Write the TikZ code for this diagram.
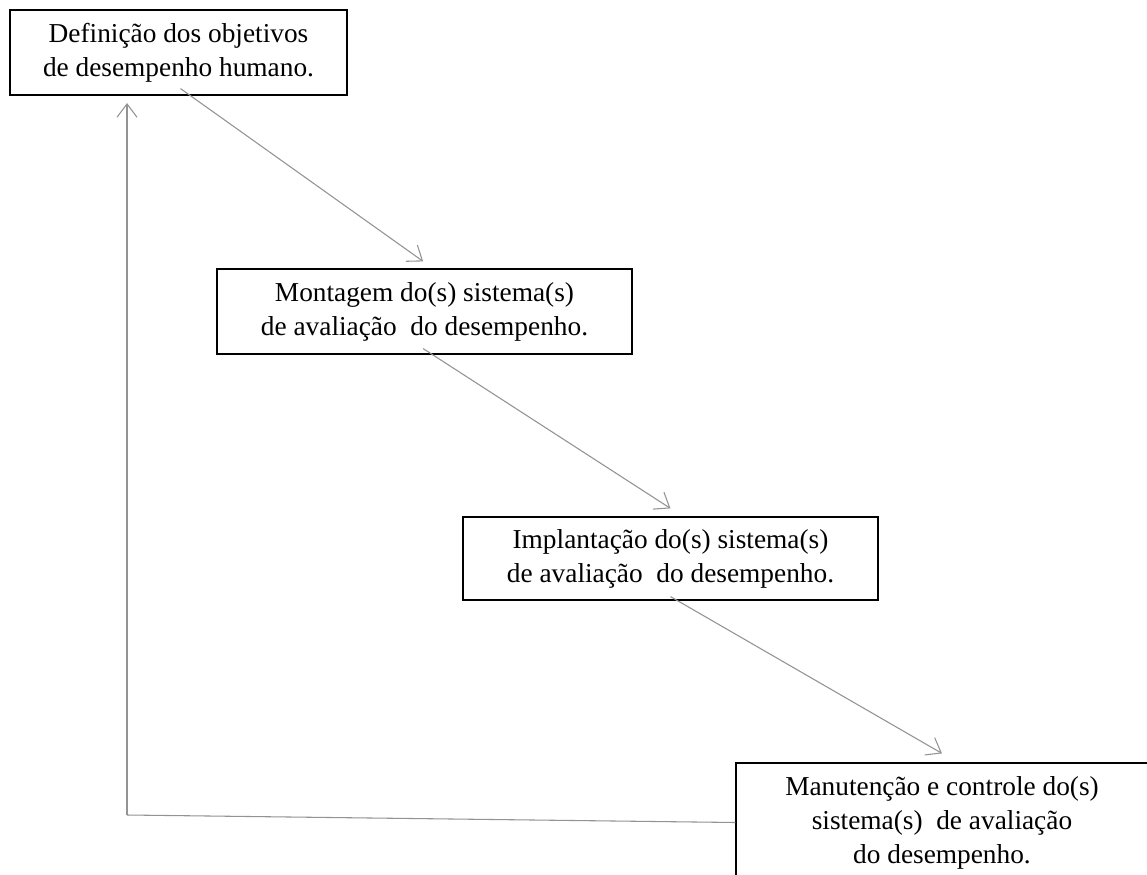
\documentclass[tikz,border=0pt]{standalone}
\usepackage{fontspec}
\setmainfont{Liberation Serif}
\usetikzlibrary{arrows.meta}
\definecolor{linegray}{HTML}{939393}
\tikzset{
  stagebox/.style={draw=black, line width=0.9pt, align=center, inner sep=0pt,
    font=\fontsize{20.5pt}{25.5pt}\selectfont},
  flow/.style={draw=linegray, line width=0.8pt, -{Straight Barb[length=10pt,width=15pt]}},
  feedline/.style={draw=linegray, line width=0.8pt}
}
\begin{document}
\begin{tikzpicture}[x=0.75pt,y=-0.75pt]
\useasboundingbox (0,0) rectangle (1147,875);
\clip (0,0) rectangle (1147,875);
\fill[white] (0,0) rectangle (1147,875);

\node[stagebox, minimum width=337*0.75pt, minimum height=85*0.75pt] (b1) at (178.5,52.5)
  {Definição dos objetivos\\de desempenho humano.};
\node[stagebox, minimum width=415*0.75pt, minimum height=85*0.75pt] (b2) at (424.5,311.5)
  {Montagem do(s) sistema(s)\\de avaliação\ \ do desempenho.};
\node[stagebox, minimum width=415*0.75pt, minimum height=83*0.75pt] (b3) at (670.5,558.5)
  {Implantação do(s) sistema(s)\\de avaliação\ \ do desempenho.};
\node[stagebox, minimum width=412*0.75pt, minimum height=119*0.75pt] (b4) at (942,822.5)
  {Manutenção e controle do(s)\\sistema(s)\ \ de avaliação\\do desempenho.};

\coordinate (fbcorner) at (127,815);
\coordinate (fbtop) at (127,103);

\draw[flow] ([yshift=5.25pt,xshift=1.5pt]b1.south) -- ([yshift=5.25pt,xshift=-1pt]b2.north);
\draw[flow] ([yshift=4.5pt,xshift=-1pt]b2.south) -- ([yshift=6pt]b3.north);
\draw[flow] ([yshift=3pt]b3.south) -- ([yshift=6.75pt]b4.north);
\draw[feedline] (b4.west) -- (fbcorner);
\draw[flow] (fbcorner) -- (fbtop);
\end{tikzpicture}
\end{document}
